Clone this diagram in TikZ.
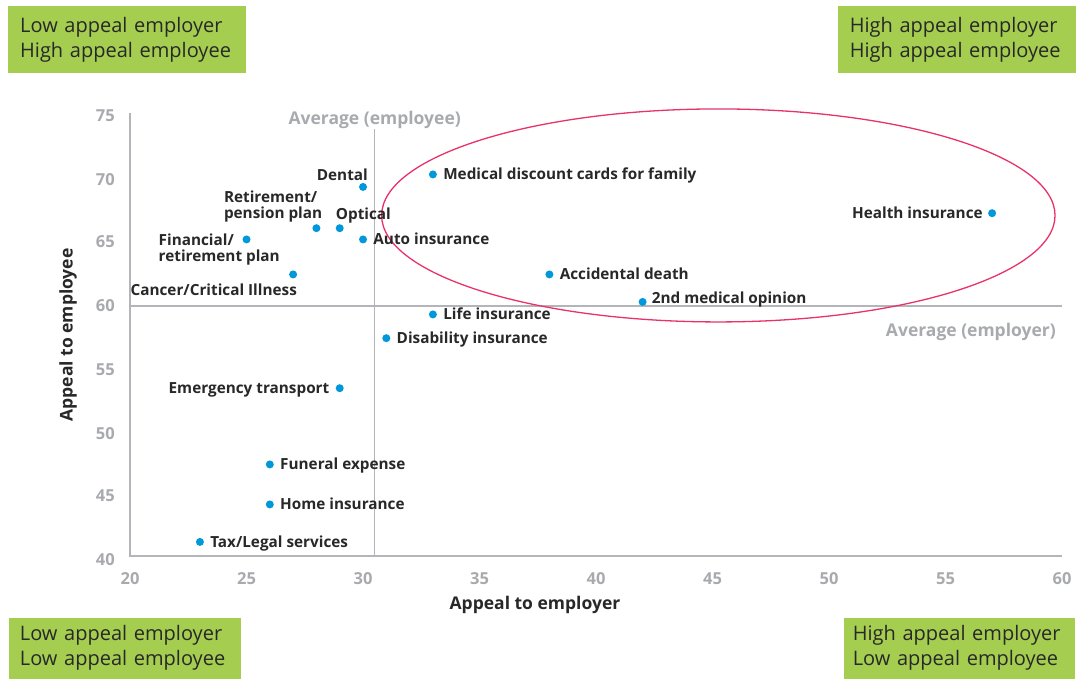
\documentclass[tikz,border=0pt]{standalone}
\usepackage{fontspec}
\setmainfont{Open Sans}
\usetikzlibrary{positioning}
\definecolor{quadgreen}{RGB}{165,206,80}
\definecolor{dotblue}{RGB}{0,152,218}
\definecolor{axisgray}{RGB}{180,181,184}
\definecolor{tickgray}{RGB}{168,170,173}
\definecolor{labeltext}{RGB}{40,40,40}
\definecolor{ringpink}{RGB}{232,50,104}

\begin{document}
\begin{tikzpicture}[x=23.3pt, y=12.5pt, node distance=6pt]
    \tikzstyle{pt}=[circle, fill=dotblue, inner sep=0pt, minimum size=8pt]
    \tikzstyle{lbl}=[font=\bfseries\fontsize{15.3}{16.5}\selectfont, text=labeltext, inner sep=0pt, text height=13pt, text depth=2pt]
    \tikzstyle{lbltwo}=[font=\bfseries\fontsize{15.3}{16.5}\selectfont, text=labeltext, inner sep=0pt, align=left]
    \tikzstyle{tick}=[font=\bfseries\fontsize{16.5}{18}\selectfont, text=tickgray, inner sep=0pt]
    \tikzstyle{quad}=[fill=quadgreen, text=labeltext, font=\fontsize{20}{25}\selectfont, inner xsep=12pt, inner ysep=0pt, align=left]
    \tikzstyle{axis}=[draw=axisgray, line width=2pt]
    % page corners
    \coordinate (nw) at (14.42,84.456);
    \coordinate (ne) at (60.687,84.456);
    \coordinate (sw) at (14.42,30.136);
    \coordinate (se) at (60.687,30.136);
    \useasboundingbox (sw) rectangle (ne);
    % quadrant boxes
    \node[quad, anchor=north west, minimum width=238pt, minimum height=67pt, text width=214pt] (lowhigh) at ([xshift=8pt,yshift=-6pt]nw) {Low appeal employer\\High appeal employee};
    \node[quad, anchor=north east, minimum width=238pt, minimum height=67pt, text width=214pt] (highhigh) at ([xshift=-2pt,yshift=-6pt]ne) {High appeal employer\\High appeal employee};
    \node[quad, anchor=south west, minimum width=232pt, minimum height=61pt, text width=210pt, inner xsep=11pt] (lowlow) at ([xshift=8.7pt]sw) {Low appeal employer\\Low appeal employee};
    \node[quad, anchor=south east, minimum width=231pt, minimum height=61pt, text width=213pt, inner xsep=9pt] (highlow) at ([xshift=-3pt]se) {High appeal employer\\Low appeal employee};
    % axes and averages
    \coordinate (origin) at (20,40);
    \coordinate (ytop) at (20,75.4);
    \coordinate (xend) at (60,40);
    \coordinate (avgtop) at (30.5,74.1);
    \coordinate (avgbot) at (30.5,40);
    \coordinate (avgleft) at (20,60);
    \coordinate (avgend) at (60,60);
    \draw[draw=axisgray, line width=1.3pt] (avgtop) -- (avgbot);
    \draw[axis] (avgleft) -- (avgend);
    \draw[axis] (ytop) -- (origin) -- (xend);
    \node[tick, font=\bfseries\fontsize{17.5}{20}\selectfont, above=1pt of avgtop] (avgemployee) {Average (employee)};
    \node[tick, font=\bfseries\fontsize{17.5}{20}\selectfont, anchor=east] (avgemployer) at ([xshift=-6pt,yshift=-26pt]avgend) {Average (employer)};
    % tick labels
    \node[tick, anchor=east] (y40) at ([xshift=-15pt]20,39.7) {40};
    \node[tick, anchor=east] (y45) at ([xshift=-15pt]20,44.8) {45};
    \node[tick, anchor=east] (y50) at ([xshift=-15pt]20,49.8) {50};
    \node[tick, anchor=east] (y55) at ([xshift=-15pt]20,54.9) {55};
    \node[tick, anchor=east] (y60) at ([xshift=-15pt]20,60) {60};
    \node[tick, anchor=east] (y65) at ([xshift=-15pt]20,65.1) {65};
    \node[tick, anchor=east] (y70) at ([xshift=-15pt]20,70.1) {70};
    \node[tick, anchor=east] (y75) at ([xshift=-15pt]20,75.2) {75};
    \node[tick] (x20) at ([yshift=-23pt]20,40) {20};
    \node[tick] (x25) at ([yshift=-23pt]25,40) {25};
    \node[tick] (x30) at ([yshift=-23pt]30,40) {30};
    \node[tick] (x35) at ([yshift=-23pt]35,40) {35};
    \node[tick] (x40) at ([yshift=-23pt]40,40) {40};
    \node[tick] (x45) at ([yshift=-23pt]45,40) {45};
    \node[tick] (x50) at ([yshift=-23pt]50,40) {50};
    \node[tick] (x55) at ([yshift=-23pt]55,40) {55};
    \node[tick] (x60) at ([yshift=-23pt]60,40) {60};
    \node[lbl, font=\bfseries\fontsize{17.5}{20}\selectfont] (xtitle) at (37.38,36.14) {Appeal to employer};
    \node[lbl, font=\bfseries\fontsize{17.5}{20}\selectfont, rotate=90] (ytitle) at (17.30,57.66) {Appeal to employee};
    % highlight ring
    \draw[ringpink, line width=1.3pt] (45.25,67.22) ellipse [x radius=336.7pt, y radius=106.5pt];
    % data points
    \node[pt] (dental)   at (30,69.5) {};
    \node[pt] (medcard)  at (33,70.5) {};
    \node[pt] (pension)  at (28,66.2) {};
    \node[pt] (optical)  at (29,66.2) {};
    \node[pt] (finplan)  at (25,65.3) {};
    \node[pt] (auto)     at (30,65.3) {};
    \node[pt] (cancer)   at (27,62.5) {};
    \node[pt] (health)   at (57,67.4) {};
    \node[pt] (accdeath) at (38,62.5) {};
    \node[pt] (opinion)  at (42,60.3) {};
    \node[pt] (life)     at (33,59.3) {};
    \node[pt] (disab)    at (31,57.4) {};
    \node[pt] (emerg)    at (29,53.4) {};
    \node[pt] (funeral)  at (26,47.3) {};
    \node[pt] (home)     at (26,44.1) {};
    \node[pt] (tax)      at (23,41.1) {};
    % point labels
    \node[lbl, anchor=east] (dental-l) at ([xshift=5pt,yshift=12pt]dental.center) {Dental};
    \node[lbl, right=of medcard] (medcard-l) {Medical discount cards for family};
    \node[lbltwo, anchor=south east] (pension-l) at ([xshift=6pt,yshift=5.5pt]pension.center) {Retirement/\\pension plan};
    \node[lbl, anchor=west] (optical-l) at ([xshift=-4pt,yshift=14pt]optical.center) {Optical};
    \node[lbltwo, anchor=north west] (finplan-l) at ([xshift=-88pt,yshift=6pt]finplan.center) {Financial/\\retirement plan};
    \node[lbl, right=of auto] (auto-l) {Auto insurance};
    \node[lbl, anchor=east] (cancer-l) at ([xshift=4pt,yshift=-16pt]cancer.center) {Cancer/Critical Illness};
    \node[lbl, left=5pt of health] (health-l) {Health insurance};
    \node[lbl, right=of accdeath] (accdeath-l) {Accidental death};
    \node[lbl, anchor=west] (opinion-l) at ([xshift=9pt,yshift=4pt]opinion.center) {2nd medical opinion};
    \node[lbl, right=of life] (life-l) {Life insurance};
    \node[lbl, right=of disab] (disab-l) {Disability insurance};
    \node[lbl, left=of emerg] (emerg-l) {Emergency transport};
    \node[lbl, right=of funeral] (funeral-l) {Funeral expense};
    \node[lbl, right=of home] (home-l) {Home insurance};
    \node[lbl, right=of tax] (tax-l) {Tax/Legal services};
\end{tikzpicture}
\end{document}
